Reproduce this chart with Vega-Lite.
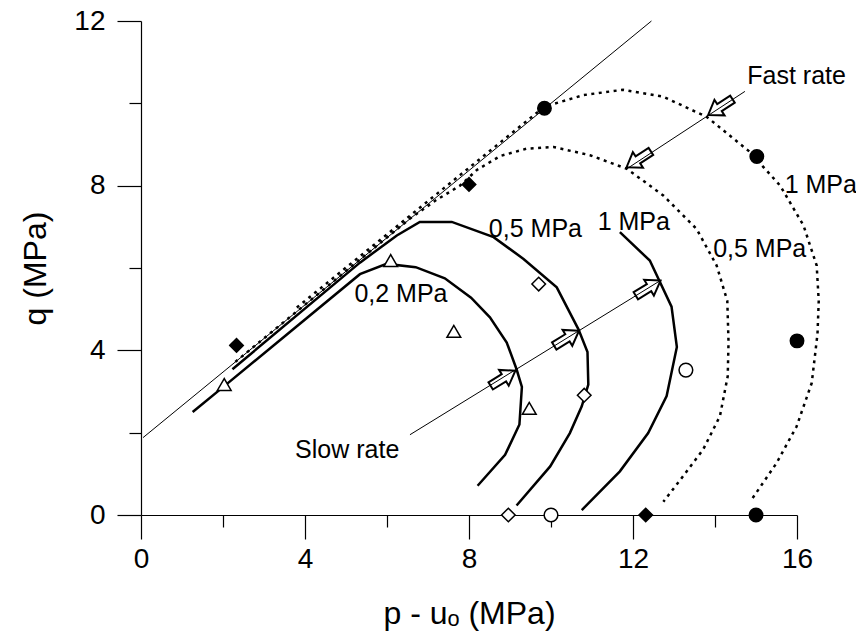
{
  "$schema": "https://vega.github.io/schema/vega-lite/v6.json",
  "width": 656,
  "height": 494,
  "autosize": {"type": "none"},
  "padding": {"left": 141, "top": 21, "right": 59, "bottom": 118},
  "background": "white",
  "config": {"view": {"stroke": null}, "font": "Liberation Sans"},
  "datasets": {
    "lines": [
      {"series": "failure", "i": 0, "p": 0.05, "q": 1.88},
      {"series": "failure", "i": 1, "p": 12.45, "q": 12.0},
      {"series": "slow", "i": 0, "p": 6.56, "q": 1.95},
      {"series": "slow", "i": 1, "p": 12.66, "q": 5.69},
      {"series": "fast", "i": 0, "p": 14.73, "q": 10.29},
      {"series": "fast", "i": 1, "p": 11.85, "q": 8.41},
      {"series": "s02", "i": 0, "p": 1.26, "q": 2.5},
      {"series": "s02", "i": 1, "p": 2.03, "q": 3.13},
      {"series": "s02", "i": 2, "p": 5.34, "q": 5.85},
      {"series": "s02", "i": 3, "p": 5.99, "q": 6.1},
      {"series": "s02", "i": 4, "p": 6.7, "q": 6.02},
      {"series": "s02", "i": 5, "p": 7.41, "q": 5.75},
      {"series": "s02", "i": 6, "p": 8.05, "q": 5.28},
      {"series": "s02", "i": 7, "p": 8.51, "q": 4.8},
      {"series": "s02", "i": 8, "p": 8.92, "q": 4.19},
      {"series": "s02", "i": 9, "p": 9.16, "q": 3.54},
      {"series": "s02", "i": 10, "p": 9.29, "q": 3.11},
      {"series": "s02", "i": 11, "p": 9.23, "q": 2.2},
      {"series": "s02", "i": 12, "p": 8.88, "q": 1.46},
      {"series": "s02", "i": 13, "p": 8.21, "q": 0.71},
      {"series": "s05", "i": 0, "p": 2.23, "q": 3.54},
      {"series": "s05", "i": 1, "p": 5.34, "q": 6.13},
      {"series": "s05", "i": 2, "p": 6.24, "q": 6.79},
      {"series": "s05", "i": 3, "p": 6.8, "q": 7.12},
      {"series": "s05", "i": 4, "p": 7.58, "q": 7.12},
      {"series": "s05", "i": 5, "p": 8.6, "q": 6.75},
      {"series": "s05", "i": 6, "p": 9.33, "q": 6.22},
      {"series": "s05", "i": 7, "p": 10.14, "q": 5.53},
      {"series": "s05", "i": 8, "p": 10.67, "q": 4.51},
      {"series": "s05", "i": 9, "p": 10.89, "q": 3.96},
      {"series": "s05", "i": 10, "p": 10.91, "q": 3.17},
      {"series": "s05", "i": 11, "p": 10.75, "q": 2.64},
      {"series": "s05", "i": 12, "p": 10.46, "q": 1.99},
      {"series": "s05", "i": 13, "p": 9.98, "q": 1.18},
      {"series": "s05", "i": 14, "p": 9.16, "q": 0.23},
      {"series": "s1", "i": 0, "p": 11.68, "q": 6.87},
      {"series": "s1", "i": 1, "p": 12.41, "q": 6.18},
      {"series": "s1", "i": 2, "p": 12.94, "q": 5.06},
      {"series": "s1", "i": 3, "p": 13.07, "q": 4.08},
      {"series": "s1", "i": 4, "p": 12.82, "q": 2.89},
      {"series": "s1", "i": 5, "p": 12.37, "q": 1.99},
      {"series": "s1", "i": 6, "p": 11.68, "q": 1.06},
      {"series": "s1", "i": 7, "p": 10.75, "q": 0.12},
      {"series": "f05", "i": 0, "p": 2.3, "q": 3.72},
      {"series": "f05", "i": 1, "p": 6.56, "q": 7.2},
      {"series": "f05", "i": 2, "p": 7.2, "q": 7.65},
      {"series": "f05", "i": 3, "p": 7.78, "q": 8.0},
      {"series": "f05", "i": 4, "p": 8.19, "q": 8.38},
      {"series": "f05", "i": 5, "p": 8.76, "q": 8.72},
      {"series": "f05", "i": 6, "p": 9.41, "q": 8.9},
      {"series": "f05", "i": 7, "p": 10.06, "q": 8.94},
      {"series": "f05", "i": 8, "p": 10.95, "q": 8.74},
      {"series": "f05", "i": 9, "p": 11.85, "q": 8.41},
      {"series": "f05", "i": 10, "p": 12.74, "q": 7.76},
      {"series": "f05", "i": 11, "p": 13.55, "q": 6.95},
      {"series": "f05", "i": 12, "p": 14.04, "q": 6.06},
      {"series": "f05", "i": 13, "p": 14.3, "q": 5.2},
      {"series": "f05", "i": 14, "p": 14.33, "q": 4.2},
      {"series": "f05", "i": 15, "p": 14.31, "q": 3.37},
      {"series": "f05", "i": 16, "p": 14.12, "q": 2.4},
      {"series": "f05", "i": 17, "p": 13.71, "q": 1.59},
      {"series": "f05", "i": 18, "p": 13.15, "q": 0.85},
      {"series": "f05", "i": 19, "p": 12.74, "q": 0.32},
      {"series": "f1", "i": 0, "p": 3.8, "q": 5.04},
      {"series": "f1", "i": 1, "p": 9.84, "q": 9.92},
      {"series": "f1", "i": 2, "p": 10.79, "q": 10.2},
      {"series": "f1", "i": 3, "p": 11.76, "q": 10.33},
      {"series": "f1", "i": 4, "p": 12.74, "q": 10.16},
      {"series": "f1", "i": 5, "p": 13.8, "q": 9.67},
      {"series": "f1", "i": 6, "p": 14.85, "q": 8.82},
      {"series": "f1", "i": 7, "p": 15.59, "q": 8.0},
      {"series": "f1", "i": 8, "p": 16.16, "q": 7.03},
      {"series": "f1", "i": 9, "p": 16.48, "q": 6.06},
      {"series": "f1", "i": 10, "p": 16.53, "q": 5.2},
      {"series": "f1", "i": 11, "p": 16.5, "q": 4.4},
      {"series": "f1", "i": 12, "p": 16.36, "q": 3.21},
      {"series": "f1", "i": 13, "p": 15.99, "q": 2.15},
      {"series": "f1", "i": 14, "p": 15.5, "q": 1.26},
      {"series": "f1", "i": 15, "p": 14.89, "q": 0.37}
    ],
    "points": [
      {"kind": "filled circle", "p": 9.84, "q": 9.88},
      {"kind": "filled circle", "p": 15.02, "q": 8.71},
      {"kind": "filled circle", "p": 16.0, "q": 4.23},
      {"kind": "filled circle", "p": 15.0, "q": 0},
      {"kind": "filled diamond", "p": 2.33, "q": 4.12},
      {"kind": "filled diamond", "p": 8.0, "q": 8.03},
      {"kind": "filled diamond", "p": 12.31, "q": 0},
      {"kind": "open diamond", "p": 9.7, "q": 5.61},
      {"kind": "open diamond", "p": 10.81, "q": 2.91},
      {"kind": "open diamond", "p": 8.96, "q": 0},
      {"kind": "open circle", "p": 13.29, "q": 3.52},
      {"kind": "open circle", "p": 10.0, "q": 0},
      {"kind": "open triangle", "p": 2.03, "q": 3.17},
      {"kind": "open triangle", "p": 6.09, "q": 6.18},
      {"kind": "open triangle", "p": 7.63, "q": 4.46},
      {"kind": "open triangle", "p": 9.47, "q": 2.59}
    ],
    "arrows": [
      {"dir": "slow", "p": 8.83, "q": 3.32},
      {"dir": "slow", "p": 10.38, "q": 4.29},
      {"dir": "slow", "p": 12.37, "q": 5.51},
      {"dir": "fast", "p": 14.13, "q": 9.91},
      {"dir": "fast", "p": 12.14, "q": 8.64}
    ],
    "labels": [
      {"text": "0,2 MPa", "p": 6.34, "q": 5.37},
      {"text": "0,5 MPa", "p": 9.62, "q": 6.95},
      {"text": "1 MPa", "p": 12.02, "q": 7.11},
      {"text": "0,5 MPa", "p": 15.09, "q": 6.46},
      {"text": "1 MPa", "p": 16.58, "q": 8.01},
      {"text": "Fast rate", "p": 15.99, "q": 10.66},
      {"text": "Slow rate", "p": 5.03, "q": 1.59}
    ]
  },
  "encoding": {
    "x": {
      "field": "p",
      "type": "quantitative",
      "scale": {"domain": [0, 16], "nice": false, "zero": false},
      "axis": {
        "values": [0, 2, 4, 6, 8, 10, 12, 14, 16],
        "title": "p - uₒ (MPa)",
        "grid": false,
        "domainColor": "black",
        "domainWidth": 1.2,
        "tickColor": "black",
        "tickWidth": 1.2,
        "tickSize": {"condition": {"test": "datum.value % 4 === 0", "value": 24}, "value": 12},
        "labelExpr": "datum.value % 4 === 0 ? datum.label : ''",
        "labelFont": "Liberation Sans",
        "labelFontSize": 28,
        "labelColor": "black",
        "labelPadding": 6,
        "labelFlush": false,
        "labelOverlap": false,
        "titleFont": "Liberation Sans",
        "titleFontSize": 32,
        "titleFontWeight": "normal",
        "titleColor": "black",
        "titlePadding": 25
      }
    },
    "y": {
      "field": "q",
      "type": "quantitative",
      "scale": {"domain": [0, 12], "nice": false, "zero": false},
      "axis": {
        "values": [0, 2, 4, 6, 8, 10, 12],
        "title": "q (MPa)",
        "grid": false,
        "domainColor": "black",
        "domainWidth": 1.2,
        "tickColor": "black",
        "tickWidth": 1.2,
        "tickSize": {"condition": {"test": "datum.value % 4 === 0", "value": 24}, "value": 12},
        "labelExpr": "datum.value % 4 === 0 ? datum.label : ''",
        "labelFont": "Liberation Sans",
        "labelFontSize": 28,
        "labelColor": "black",
        "labelPadding": 12,
        "labelFlush": false,
        "labelOverlap": false,
        "titleFont": "Liberation Sans",
        "titleFontSize": 32,
        "titleFontWeight": "normal",
        "titleColor": "black",
        "titlePadding": 21
      }
    }
  },
  "layer": [
    {
      "data": {"name": "arrows"},
      "transform": [{"filter": "datum.dir === 'slow'"}],
      "mark": {"type": "point", "shape": "M 1 0 L 0.07 -0.64 L 0.07 -0.29 L -1 -0.29 L -1 0.29 L 0.07 0.29 L 0.07 0.64 Z", "size": 840, "angle": -31.5, "filled": true, "fill": "white", "stroke": "black", "strokeWidth": 2, "strokeJoin": "miter", "opacity": 1}
    },
    {
      "data": {"name": "arrows"},
      "transform": [{"filter": "datum.dir === 'fast'"}],
      "mark": {"type": "point", "shape": "M 1 0 L 0.07 -0.64 L 0.07 -0.29 L -1 -0.29 L -1 0.29 L 0.07 0.29 L 0.07 0.64 Z", "size": 840, "angle": 147, "filled": true, "fill": "white", "stroke": "black", "strokeWidth": 2, "strokeJoin": "miter", "opacity": 1}
    },
    {
      "data": {"name": "lines"},
      "transform": [{"filter": {"field": "series", "oneOf": ["failure", "slow", "fast"]}}],
      "mark": {"type": "line", "color": "black", "strokeWidth": 1},
      "encoding": {"detail": {"field": "series"}, "order": {"field": "i"}}
    },
    {
      "data": {"name": "lines"},
      "transform": [{"filter": {"field": "series", "oneOf": ["s02", "s05", "s1"]}}],
      "mark": {"type": "line", "color": "black", "strokeWidth": 2.5},
      "encoding": {"detail": {"field": "series"}, "order": {"field": "i"}}
    },
    {
      "data": {"name": "lines"},
      "transform": [{"filter": {"field": "series", "oneOf": ["f05", "f1"]}}],
      "mark": {"type": "line", "color": "black", "strokeWidth": 2.5, "strokeDash": [3, 4.5], "strokeCap": "butt"},
      "encoding": {"detail": {"field": "series"}, "order": {"field": "i"}}
    },
    {
      "data": {"name": "points"},
      "mark": {"type": "point", "filled": true, "stroke": "black", "strokeWidth": 1.5, "opacity": 1},
      "encoding": {
        "shape": {"field": "kind", "type": "nominal", "legend": null, "scale": {"domain": ["filled circle", "filled diamond", "open diamond", "open circle", "open triangle"], "range": ["circle", "diamond", "diamond", "circle", "triangle-up"]}},
        "fill": {"field": "kind", "type": "nominal", "legend": null, "scale": {"domain": ["filled circle", "filled diamond", "open diamond", "open circle", "open triangle"], "range": ["black", "black", "white", "white", "white"]}},
        "size": {"field": "kind", "type": "nominal", "legend": null, "scale": {"domain": ["filled circle", "filled diamond", "open diamond", "open circle", "open triangle"], "range": [180, 190, 170, 160, 140]}}
      }
    },
    {
      "data": {"name": "labels"},
      "mark": {"type": "text", "font": "Liberation Sans", "fontSize": 25, "color": "black", "align": "center", "baseline": "middle"},
      "encoding": {"text": {"field": "text"}}
    }
  ]
}
